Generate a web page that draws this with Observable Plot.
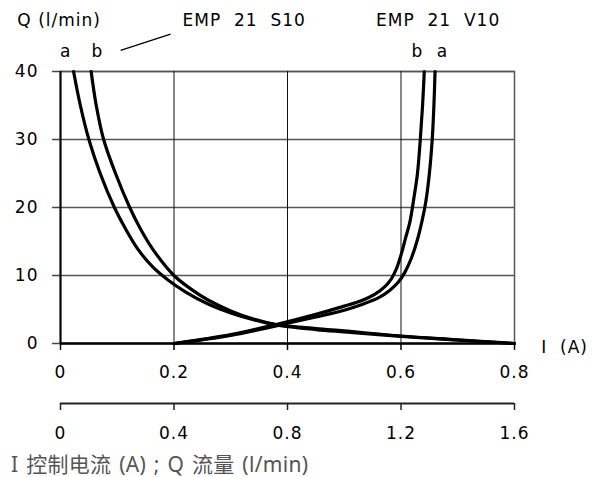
<!DOCTYPE html>
<html>
<head>
<meta charset="utf-8">
<script src="https://cdn.jsdelivr.net/npm/d3@7"></script>
<script src="https://cdn.jsdelivr.net/npm/@observablehq/plot@0.6"></script>
<style>
  body { margin: 0; background: #fff; }
  #chart svg text { letter-spacing: 1px; }
  #caption { font-family: "Noto Sans", "Noto Sans CJK SC", sans-serif; font-size: 21px; word-spacing: 2px; letter-spacing: 0.3px; color: #555; margin: 0 0 0 11px; line-height: 24px; }
</style>
</head>
<body>
<div id="chart"></div>
<div id="caption">I 控制电流 (A) ; Q 流量 (l/min)</div>
<script>
// Tick values and labels
const xTicks = [0, 0.2, 0.4, 0.6, 0.8];
const yTicks = [0, 10, 20, 30, 40];
const x2TickLabels = ["0", "0.4", "0.8", "1.2", "1.6"];

// EMP 21 S10 (decreasing) curves: current I (A), flow Q (l/min)
const s10aI = [0.023, 0.035, 0.05, 0.07, 0.095, 0.115, 0.137, 0.162, 0.19, 0.22, 0.26, 0.30, 0.34, 0.38, 0.45, 0.50, 0.60, 0.70, 0.80];
const s10aQ = [40, 35, 30, 25, 20, 16.8, 13.8, 11.3, 9.3, 7.6, 5.8, 4.5, 3.5, 2.75, 2.05, 1.7, 1.05, 0.5, 0];
const s10bI = [0.054, 0.063, 0.076, 0.097, 0.122, 0.14, 0.164, 0.20, 0.23, 0.26, 0.30, 0.34, 0.38, 0.45, 0.50, 0.60, 0.70, 0.80];
const s10bQ = [40, 35, 30, 25, 20, 17, 13.7, 10, 8.0, 6.4, 4.8, 3.6, 2.8, 2.2, 1.85, 1.1, 0.55, 0];

// EMP 21 V10 (increasing) curves
const v10bI = [0.20, 0.30, 0.38, 0.45, 0.50, 0.53, 0.555, 0.572, 0.583, 0.592, 0.60, 0.608, 0.616, 0.622, 0.629, 0.634, 0.638, 0.641];
const v10bQ = [0, 1.3, 2.8, 4.3, 5.5, 6.3, 7.3, 8.4, 9.5, 11, 13, 15.5, 18, 21, 25, 30, 35, 40];
const v10aI = [0.20, 0.30, 0.38, 0.45, 0.50, 0.53, 0.56, 0.58, 0.595, 0.607, 0.618, 0.628, 0.637, 0.644, 0.65, 0.655, 0.658, 0.66];
const v10aQ = [0, 1.2, 2.6, 3.9, 4.9, 5.7, 6.7, 7.8, 9.0, 10.5, 12.5, 15, 18, 21, 25, 30, 35, 40];

const seriesNames = ["S10a", "S10b", "V10b", "V10a"];
const seriesI = [s10aI, s10bI, v10bI, v10aI];
const seriesQ = [s10aQ, s10bQ, v10bQ, v10aQ];

// Annotation texts
const headerTexts = ["Q (l/min)", "EMP  21  S10", "EMP  21  V10"];
const curveLetters = ["a", "b", "b", "a"];
const xAxisName = "I  (A)";

const rows = [];
seriesNames.forEach((name, k) => {
  seriesI[k].forEach((I, j) => rows.push({series: name, I, Q: seriesQ[k][j]}));
});

const font = "DejaVu Sans, sans-serif";

const headers = headerTexts.map((t, i) => ({t, x: [-0.076, 0.215, 0.556][i]}));
const letters = curveLetters.map((t, i) => ({t, x: [0.009, 0.065, 0.629, 0.673][i]}));

const chart = Plot.plot({
  width: 597,
  height: 452,
  marginLeft: 60,
  marginRight: 83,
  marginTop: 71,
  marginBottom: 109,
  style: {fontFamily: font, fontSize: "17px", color: "#000", background: "#fff"},
  x: {domain: [0, 0.8], axis: null},
  y: {domain: [0, 40], axis: null},
  marks: [
    Plot.frame({stroke: "#555", strokeWidth: 1.5}),
    Plot.gridY(yTicks.filter(d => d > 0), {stroke: "#555", strokeOpacity: 1, strokeWidth: 1.5}),
    Plot.gridX(xTicks.filter(d => d > 0 && d < 0.8), {stroke: "#111", strokeOpacity: 1, strokeWidth: 1}),
    Plot.axisY({ticks: yTicks, tickSize: 8, tickPadding: 14, tickFormat: d => String(d), stroke: "#444", strokeWidth: 1.5, fontSize: 17, label: null}),
    Plot.axisX({ticks: xTicks, tickSize: 7, tickPadding: 15, tickFormat: d => String(d), stroke: "#000", strokeWidth: 1.5, fontSize: 17, label: null}),
    Plot.axisX({ticks: xTicks, tickSize: 7, tickPadding: 16, dy: 60, tickFormat: d => x2TickLabels[xTicks.indexOf(d)], stroke: "#222", strokeWidth: 1.5, fontSize: 17, label: null}),
    Plot.ruleY([0], {dy: 60, stroke: "#222", strokeWidth: 2}),
    Plot.ruleX([0], {stroke: "#000", strokeWidth: 2}),
    Plot.ruleY([0], {stroke: "#000", strokeWidth: 2.5}),
    Plot.line(rows, {x: "I", y: "Q", z: "series", stroke: "#000", strokeWidth: 3.2, curve: "catmull-rom"}),
    Plot.text(headers, {x: "x", y: () => 40, text: "t", dy: -51, textAnchor: "start", fontSize: 17}),
    Plot.text(letters, {x: "x", y: () => 40, text: "t", dy: -20, fontSize: 17}),
    Plot.text([xAxisName], {x: () => 0.847, y: () => 0, text: d => d, dy: 4, textAnchor: "start", fontSize: 17}),
    Plot.link([0], {x1: () => 0.106, y1: () => 43.1, x2: () => 0.194, y2: () => 45.5, stroke: "#000", strokeWidth: 1.3})
  ]
});
document.getElementById("chart").appendChild(chart);
</script>
</body>
</html>
